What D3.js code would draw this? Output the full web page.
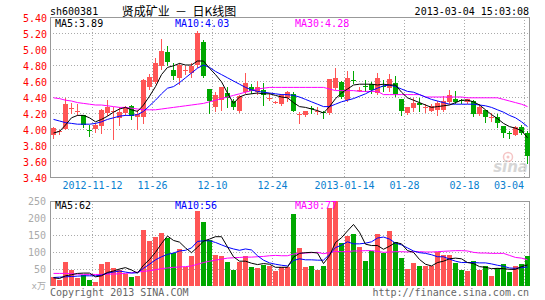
<!DOCTYPE html>
<html>
<head>
<meta charset="utf-8">
<script src="https://cdnjs.cloudflare.com/ajax/libs/d3/7.8.5/d3.min.js"></script>
<style>
  body { margin: 0; background: #fff; }
  text { font-family: "DejaVu Sans Mono", monospace; font-size: 10px; }
</style>
</head>
<body>
<div id="k-chart"></div>
<script>
// trading days shown on the chart
var dates = [
  "2012-11-01", "2012-11-02", "2012-11-05", "2012-11-06", "2012-11-07", "2012-11-08", "2012-11-09", "2012-11-12",
  "2012-11-13", "2012-11-14", "2012-11-15", "2012-11-16", "2012-11-19", "2012-11-20", "2012-11-21", "2012-11-22",
  "2012-11-23", "2012-11-26", "2012-11-27", "2012-11-28", "2012-11-29", "2012-11-30", "2012-12-03", "2012-12-04",
  "2012-12-05", "2012-12-06", "2012-12-07", "2012-12-10", "2012-12-11", "2012-12-12", "2012-12-13", "2012-12-14",
  "2012-12-17", "2012-12-18", "2012-12-19", "2012-12-20", "2012-12-21", "2012-12-24", "2012-12-25", "2012-12-26",
  "2012-12-27", "2012-12-28", "2012-12-31", "2013-01-04", "2013-01-07", "2013-01-08", "2013-01-09", "2013-01-10",
  "2013-01-11", "2013-01-14", "2013-01-15", "2013-01-16", "2013-01-17", "2013-01-18", "2013-01-21", "2013-01-22",
  "2013-01-23", "2013-01-24", "2013-01-25", "2013-01-28", "2013-01-29", "2013-01-30", "2013-01-31", "2013-02-01",
  "2013-02-04", "2013-02-05", "2013-02-06", "2013-02-07", "2013-02-08", "2013-02-18", "2013-02-19", "2013-02-20",
  "2013-02-21", "2013-02-22", "2013-02-25", "2013-02-26", "2013-02-27", "2013-02-28", "2013-03-01", "2013-03-04"
];

var openPrices = [
  3.92, 3.96, 4.00, 4.25, 4.21, 4.17, 3.99, 4.00, 4.04, 4.21, 4.22, 4.14, 4.20, 4.29, 4.15, 4.15, 4.52, 4.59, 4.78, 4.96,
  4.74, 4.64, 4.73, 4.70, 4.80, 5.09, 4.50, 4.27, 4.37, 4.45, 4.35, 4.22, 4.47, 4.53, 4.46, 4.49, 4.38, 4.33, 4.31, 4.39,
  4.44, 4.18, 4.17, 4.26, 4.22, 4.21, 4.19, 4.51, 4.59, 4.37, 4.61, 4.48, 4.54, 4.56, 4.45, 4.54, 4.51, 4.57, 4.37, 4.20,
  4.27, 4.33, 4.26, 4.23, 4.24, 4.24, 4.33, 4.38, 4.36, 4.33, 4.35, 4.19, 4.24, 4.14, 4.15, 4.04, 3.95, 3.93, 4.03, 3.95
];
var highPrices = [
  4.03, 3.99, 4.39, 4.33, 4.31, 4.18, 4.05, 4.08, 4.25, 4.36, 4.28, 4.28, 4.29, 4.30, 4.24, 4.62, 4.69, 4.89, 5.13, 5.04,
  4.83, 4.82, 4.79, 4.83, 5.23, 5.11, 4.50, 4.46, 4.53, 4.53, 4.38, 4.43, 4.70, 4.56, 4.60, 4.58, 4.45, 4.35, 4.44, 4.48,
  4.46, 4.21, 4.23, 4.29, 4.27, 4.22, 4.62, 4.76, 4.60, 4.72, 4.73, 4.53, 4.61, 4.59, 4.70, 4.61, 4.69, 4.66, 4.37, 4.28,
  4.39, 4.39, 4.31, 4.31, 4.35, 4.41, 4.49, 4.47, 4.38, 4.38, 4.36, 4.31, 4.24, 4.20, 4.19, 4.04, 3.98, 4.04, 4.05, 3.97
];
var lowPrices = [
  3.89, 3.94, 4.00, 4.20, 4.17, 4.02, 3.91, 3.96, 3.95, 4.18, 3.88, 4.05, 4.18, 4.12, 4.00, 4.07, 4.50, 4.58, 4.75, 4.80,
  4.63, 4.56, 4.69, 4.65, 4.78, 4.65, 4.20, 4.23, 4.24, 4.28, 4.25, 4.21, 4.45, 4.45, 4.44, 4.30, 4.36, 4.32, 4.30, 4.35,
  4.22, 4.08, 4.16, 4.20, 4.19, 4.14, 4.19, 4.50, 4.39, 4.35, 4.58, 4.47, 4.47, 4.45, 4.44, 4.47, 4.48, 4.41, 4.17, 4.19,
  4.22, 4.22, 4.21, 4.22, 4.18, 4.23, 4.32, 4.32, 4.33, 4.32, 4.16, 4.18, 4.09, 4.10, 4.03, 3.90, 3.89, 3.92, 3.94, 3.58
];
var closePrices = [
  4.01, 3.97, 4.31, 4.26, 4.22, 4.05, 3.98, 4.05, 4.24, 4.28, 4.23, 4.21, 4.26, 4.16, 4.19, 4.61, 4.65, 4.83, 4.97, 4.83,
  4.66, 4.80, 4.74, 4.79, 5.20, 4.66, 4.35, 4.42, 4.53, 4.39, 4.27, 4.41, 4.58, 4.48, 4.52, 4.43, 4.39, 4.34, 4.42, 4.46,
  4.23, 4.19, 4.22, 4.25, 4.23, 4.20, 4.62, 4.64, 4.40, 4.64, 4.60, 4.49, 4.53, 4.48, 4.64, 4.53, 4.62, 4.43, 4.22, 4.27,
  4.33, 4.30, 4.27, 4.29, 4.33, 4.35, 4.42, 4.34, 4.35, 4.37, 4.19, 4.28, 4.15, 4.15, 4.08, 3.95, 3.94, 4.03, 3.95, 3.66
];

// volume in units of 10,000 shares
var volumes = [
  27, 17, 70, 48, 24, 32, 18, 12, 65, 72, 52, 48, 35, 27, 30, 165, 132, 143, 155, 142,
  98, 108, 55, 88, 222, 188, 135, 90, 88, 72, 47, 70, 88, 56, 54, 62, 58, 44, 55, 56,
  212, 113, 56, 58, 47, 58, 228, 250, 126, 148, 153, 115, 74, 103, 152, 96, 162, 128, 83, 51,
  69, 60, 58, 58, 100, 90, 92, 69, 48, 45, 75, 48, 58, 29, 52, 66, 40, 60, 66, 89
];

// moving averages as drawn on the chart
var ma5Price = [
  3.95, 3.97, 4.05, 4.14, 4.17, 4.17, 4.14, 4.09, 4.12, 4.16, 4.21, 4.25, 4.27, 4.24, 4.22, 4.30, 4.41, 4.53, 4.68, 4.77,
  4.79, 4.82, 4.80, 4.80, 4.85, 4.85, 4.76, 4.68, 4.59, 4.45, 4.32, 4.40, 4.43, 4.44, 4.45, 4.44, 4.44, 4.42, 4.40, 4.39,
  4.33, 4.28, 4.27, 4.25, 4.23, 4.20, 4.28, 4.38, 4.45, 4.50, 4.55, 4.56, 4.56, 4.56, 4.55, 4.56, 4.55, 4.55, 4.46, 4.39,
  4.36, 4.33, 4.30, 4.27, 4.28, 4.29, 4.30, 4.33, 4.36, 4.36, 4.34, 4.30, 4.24, 4.18, 4.13, 4.07, 4.03, 4.01, 3.98, 3.89
];
var ma10Price = [
  4.12, 4.10, 4.08, 4.07, 4.06, 4.06, 4.06, 4.07, 4.09, 4.12, 4.14, 4.16, 4.17, 4.17, 4.18, 4.22, 4.29, 4.36, 4.44, 4.51,
  4.53, 4.58, 4.64, 4.70, 4.76, 4.80, 4.77, 4.72, 4.68, 4.64, 4.60, 4.56, 4.52, 4.49, 4.47, 4.46, 4.45, 4.44, 4.43, 4.43,
  4.42, 4.40, 4.37, 4.34, 4.31, 4.28, 4.28, 4.31, 4.34, 4.36, 4.38, 4.41, 4.44, 4.48, 4.51, 4.54, 4.55, 4.53, 4.50, 4.47,
  4.46, 4.43, 4.40, 4.37, 4.35, 4.33, 4.31, 4.31, 4.31, 4.31, 4.31, 4.30, 4.29, 4.27, 4.24, 4.21, 4.17, 4.14, 4.09, 4.03
];
var ma30Price = [
  4.39, 4.38, 4.36, 4.35, 4.33, 4.32, 4.31, 4.30, 4.30, 4.29, 4.28, 4.27, 4.27, 4.26, 4.25, 4.24, 4.24, 4.24, 4.25, 4.26,
  4.27, 4.28, 4.29, 4.30, 4.31, 4.32, 4.34, 4.36, 4.38, 4.40, 4.42, 4.44, 4.46, 4.48, 4.50, 4.51, 4.52, 4.52, 4.52, 4.52,
  4.52, 4.52, 4.52, 4.52, 4.52, 4.52, 4.50, 4.48, 4.48, 4.48, 4.48, 4.47, 4.47, 4.47, 4.47, 4.43, 4.43, 4.43, 4.43, 4.43,
  4.43, 4.43, 4.40, 4.40, 4.40, 4.40, 4.40, 4.40, 4.40, 4.39, 4.39, 4.39, 4.39, 4.39, 4.39, 4.37, 4.35, 4.33, 4.31, 4.28
];
var ma5Volume = [
  24, 22, 30, 33, 37, 38, 38, 27, 30, 40, 44, 50, 54, 47, 38, 61, 78, 99, 125, 147,
  134, 129, 112, 98, 114, 132, 138, 145, 145, 115, 86, 73, 73, 67, 63, 66, 64, 55, 55, 55,
  85, 96, 98, 99, 97, 66, 89, 128, 142, 162, 181, 158, 123, 119, 119, 108, 117, 128, 124, 104,
  99, 78, 64, 59, 69, 73, 80, 82, 80, 69, 66, 57, 55, 51, 52, 51, 49, 49, 57, 62
];
var ma10Volume = [
  25, 26, 27, 28, 29, 30, 30, 30, 32, 38, 41, 44, 41, 38, 39, 52, 64, 77, 86, 93,
  97, 103, 105, 112, 131, 133, 133, 128, 121, 114, 109, 105, 109, 106, 89, 76, 68, 64, 61, 59,
  75, 80, 77, 77, 76, 76, 93, 113, 120, 130, 124, 124, 126, 130, 141, 144, 138, 126, 121, 112,
  103, 98, 96, 92, 86, 86, 79, 73, 69, 69, 69, 68, 68, 65, 61, 58, 53, 52, 54, 56
];
var ma30Volume = [
  37, 37, 37, 36, 35, 34, 34, 34, 34, 35, 35, 36, 37, 39, 41, 43, 45, 48, 51, 53,
  55, 56, 57, 59, 64, 69, 73, 76, 79, 82, 83, 84, 85, 85, 86, 87, 89, 90, 89, 89,
  94, 96, 97, 98, 99, 95, 98, 102, 101, 101, 103, 103, 104, 104, 102, 99, 100, 101, 101, 100,
  101, 101, 100, 100, 101, 102, 103, 104, 104, 103, 99, 97, 97, 96, 96, 96, 90, 84, 82, 77
];

// axis ticks
var priceTicks = [3.40, 3.60, 3.80, 4.00, 4.20, 4.40, 4.60, 4.80, 5.00, 5.20, 5.40];
var volumeTicks = [50, 100, 150, 200, 250];
var dateTicks = ["2012-11-12", "2012-11-26", "2012-12-10", "2012-12-24", "2013-01-14", "2013-01-28", "2013-02-18", "2013-03-04"];
var dateTickLabels = ["2012-11-12", "11-26", "12-10", "12-24", "2013-01-14", "01-28", "02-18", "03-04"];

var upColor = "#ff5555";
var downColor = "#00a800";

function crisp(v) { return Math.round(v) + 0.5; }

// define the constructor function
function KLineChart() {
  var self = this;
  self.init();
}

KLineChart.prototype.init = function () {
  var self = this;
  self.plotLeft = 50;
  self.plotRight = 530;

  self.svg = d3.select("#k-chart").append("svg")
    .attr("width", 545)
    .attr("height", 300);

  self.xScale = d3.scaleBand().domain(dates).range([self.plotLeft, self.plotRight]);
  self.priceScale = d3.scaleLinear().domain([3.4, 5.4]).range([177, 17]);
  self.volumeScale = d3.scaleLinear().domain([0, 250]).range([286, 201]);

  self.drawHeader();
  self.drawPrice();
  self.drawVolume();
  self.drawFooter();
};

// dotted grid and frame for one panel
KLineChart.prototype.drawFrame = function (g, scale, ticks, top, bottom, withBottom) {
  var self = this;
  var x = self.xScale;

  g.selectAll("line.hgrid")
    .data(ticks)
    .enter().append("line")
    .attr("class", "hgrid")
    .attr("x1", self.plotLeft).attr("x2", self.plotRight - 1)
    .attr("y1", function (d) { return crisp(scale(d)); })
    .attr("y2", function (d) { return crisp(scale(d)); })
    .attr("stroke", "#aaa")
    .attr("stroke-dasharray", "1,2")
    .attr("shape-rendering", "crispEdges");

  g.selectAll("line.vgrid")
    .data(dateTicks)
    .enter().append("line")
    .attr("class", "vgrid")
    .attr("x1", function (d) { return crisp(x(d)); })
    .attr("x2", function (d) { return crisp(x(d)); })
    .attr("y1", top).attr("y2", bottom)
    .attr("stroke", "#aaa")
    .attr("stroke-dasharray", "1,2")
    .attr("shape-rendering", "crispEdges");

  var path = "M" + crisp(self.plotLeft) + "," + bottom +
    "V" + crisp(top) + "H" + crisp(self.plotRight - 1) + "V" + bottom;
  if (withBottom) path += "H" + crisp(self.plotLeft);
  g.append("path")
    .attr("d", path)
    .attr("fill", "none")
    .attr("stroke", "#999")
    .attr("shape-rendering", "crispEdges");
};

KLineChart.prototype.drawLine = function (g, scale, values, color) {
  var self = this;
  var x = self.xScale;
  var line = d3.line()
    .x(function (d, i) { return x(dates[i]) + 3.5; })
    .y(function (d) { return scale(d); });

  g.append("path")
    .datum(values)
    .attr("d", line)
    .attr("fill", "none")
    .attr("stroke", color)
    .attr("stroke-width", 1);
};

KLineChart.prototype.drawHeader = function () {
  var self = this;
  self.svg.append("text")
    .attr("x", 50).attr("y", 15)
    .text("sh600381");

  self.svg.append("text")
    .attr("x", 179).attr("y", 16)
    .attr("text-anchor", "middle")
    .style("font-family", "'Noto Sans CJK SC', sans-serif")
    .style("font-size", "12px")
    .style("white-space", "pre")
    .text("贤成矿业  －  日K线图");

  self.svg.append("text")
    .attr("x", 529).attr("y", 15)
    .attr("text-anchor", "end")
    .text("2013-03-04 15:03:08");
};

KLineChart.prototype.drawPrice = function () {
  var self = this;
  var x = self.xScale;
  var y = self.priceScale;
  var g = self.svg.append("g");

  self.drawFrame(g, y, priceTicks.slice(1, -1), 17, 177.5, true);

  // sina watermark
  var mark = g.append("g").attr("opacity", 0.6);
  mark.append("circle").attr("cx", 508).attr("cy", 157).attr("r", 4.5)
    .attr("fill", "none").attr("stroke", "#f0a0a0").attr("stroke-width", 1.5);
  mark.append("circle").attr("cx", 508).attr("cy", 157).attr("r", 1.5).attr("fill", "#f0a0a0");
  mark.append("text")
    .attr("x", 528).attr("y", 172)
    .attr("text-anchor", "end")
    .style("font-family", "'DejaVu Sans', sans-serif")
    .style("font-size", "15px")
    .style("font-weight", "bold")
    .style("font-style", "italic")
    .attr("fill", "#bbb")
    .text("sina");

  // candles
  var candles = g.selectAll("g.candle")
    .data(dates)
    .enter().append("g")
    .attr("class", "candle")
    .attr("shape-rendering", "crispEdges");

  candles.append("line")
    .attr("x1", function (d) { return x(d) + 3.5; })
    .attr("x2", function (d) { return x(d) + 3.5; })
    .attr("y1", function (d, i) { return Math.round(y(highPrices[i])); })
    .attr("y2", function (d, i) { return Math.round(y(lowPrices[i])) + 1; })
    .attr("stroke", function (d, i) { return closePrices[i] >= openPrices[i] ? upColor : downColor; });

  candles.append("rect")
    .attr("x", function (d) { return x(d) + 1; })
    .attr("width", 5)
    .attr("y", function (d, i) { return Math.round(y(Math.max(openPrices[i], closePrices[i]))); })
    .attr("height", function (d, i) {
      return Math.max(1, Math.round(Math.abs(y(openPrices[i]) - y(closePrices[i]))));
    })
    .attr("fill", function (d, i) { return closePrices[i] >= openPrices[i] ? upColor : downColor; });

  // moving average lines
  self.drawLine(g, y, ma30Price, "#ff00ff");
  self.drawLine(g, y, ma10Price, "#0000ff");
  self.drawLine(g, y, ma5Price, "#000");

  // price axis labels
  var axis = g.append("g")
    .attr("transform", "translate(" + self.plotLeft + ",0)")
    .call(d3.axisLeft(y).tickValues(priceTicks).tickFormat(d3.format(".2f")).tickSize(0).tickPadding(3));
  axis.select(".domain").remove();
  axis.selectAll("text")
    .attr("fill", "#ff0000")
    .attr("dy", "0.4em")
    .style("font-family", "'DejaVu Sans Mono', monospace")
    .style("font-size", "10px");

  // date labels under the grid lines
  g.selectAll("text.date")
    .data(dateTicks)
    .enter().append("text")
    .attr("class", "date")
    .attr("x", function (d, i) { return i === dateTicks.length - 1 ? x(d) : x(d) + 0.5; })
    .attr("y", 189)
    .attr("text-anchor", function (d, i) { return i === dateTicks.length - 1 ? "end" : "middle"; })
    .attr("fill", "#0a7fd0")
    .text(function (d, i) { return dateTickLabels[i]; });

  // legend
  var last = dates.length - 1;
  g.append("text").attr("x", 55).attr("y", 27).attr("fill", "#000")
    .text("MA5:" + ma5Price[last].toFixed(2));
  g.append("text").attr("x", 175).attr("y", 27).attr("fill", "#0000ff")
    .text("MA10:" + ma10Price[last].toFixed(2));
  g.append("text").attr("x", 295).attr("y", 27).attr("fill", "#ff00ff")
    .text("MA30:" + ma30Price[last].toFixed(2));
};

KLineChart.prototype.drawVolume = function () {
  var self = this;
  var x = self.xScale;
  var y = self.volumeScale;
  var g = self.svg.append("g");

  self.drawFrame(g, y, volumeTicks.slice(0, -1), 201, 286, false);

  g.selectAll("rect.vol")
    .data(dates)
    .enter().append("rect")
    .attr("class", "vol")
    .attr("shape-rendering", "crispEdges")
    .attr("x", function (d) { return x(d) + 1; })
    .attr("width", 5)
    .attr("y", function (d, i) { return Math.round(y(volumes[i])); })
    .attr("height", function (d, i) { return 286 - Math.round(y(volumes[i])); })
    .attr("fill", function (d, i) { return closePrices[i] >= openPrices[i] ? upColor : downColor; });

  self.drawLine(g, y, ma30Volume, "#ff00ff");
  self.drawLine(g, y, ma10Volume, "#0000ff");
  self.drawLine(g, y, ma5Volume, "#000");

  var axis = g.append("g")
    .attr("transform", "translate(" + self.plotLeft + ",0)")
    .call(d3.axisLeft(y).tickValues(volumeTicks).tickSize(0).tickPadding(4));
  axis.select(".domain").remove();
  axis.selectAll("text")
    .attr("fill", "#aaa")
    .attr("dy", "0.35em")
    .style("font-family", "'DejaVu Sans Mono', monospace")
    .style("font-size", "10px");

  g.append("text")
    .attr("x", 46).attr("y", 289)
    .attr("text-anchor", "end")
    .attr("fill", "#aaa")
    .style("font-family", "'DejaVu Sans Mono', 'Noto Sans CJK SC', monospace")
    .style("font-size", "9px")
    .text("x万");

  var last = dates.length - 1;
  g.append("text").attr("x", 55).attr("y", 209).attr("fill", "#000")
    .text("MA5:" + ma5Volume[last]);
  g.append("text").attr("x", 175).attr("y", 209).attr("fill", "#0000ff")
    .text("MA10:" + ma10Volume[last]);
  g.append("text").attr("x", 295).attr("y", 209).attr("fill", "#ff00ff")
    .text("MA30:" + ma30Volume[last]);
};

KLineChart.prototype.drawFooter = function () {
  var self = this;
  self.svg.append("text")
    .attr("x", 50).attr("y", 296)
    .attr("fill", "#666")
    .text("Copyright 2013 SINA.COM");

  self.svg.append("text")
    .attr("x", 529).attr("y", 296)
    .attr("text-anchor", "end")
    .attr("fill", "#666")
    .text("http://finance.sina.com.cn");
};

var chart = new KLineChart();
</script>
</body>
</html>
